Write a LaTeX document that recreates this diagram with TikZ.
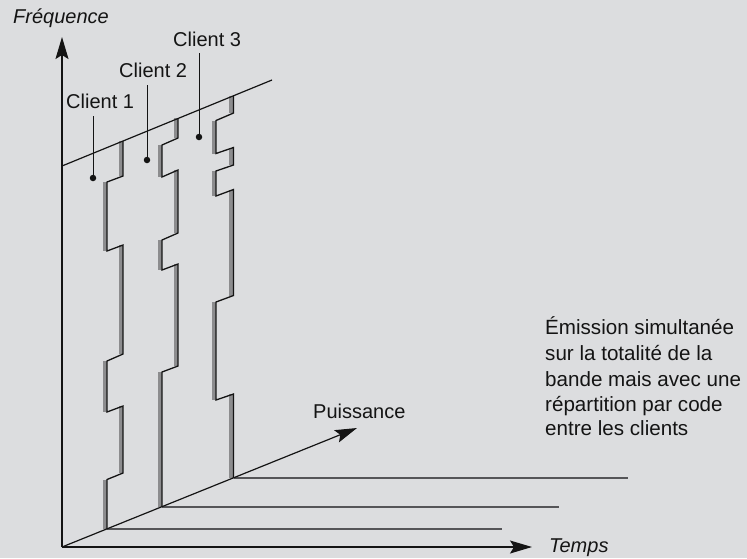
\documentclass[tikz,border=0pt]{standalone}
\usepackage{fontspec}
\setmainfont{Liberation Sans}
\usetikzlibrary{arrows.meta}
\definecolor{bgcol}{RGB}{220,221,223}
\definecolor{bandcol}{RGB}{140,140,142}
\definecolor{basecol}{RGB}{85,85,88}
\definecolor{inkcol}{RGB}{20,20,20}
\newcommand{\myband}[3]{\fill[bandcol] ({#1-4.5},#2) rectangle (#1,#3);}
\begin{document}
\begin{tikzpicture}[x=1pt,y=-1pt,
  axis/.style={draw=inkcol,line width=1.2pt,-{Stealth[length=22pt,width=13pt,inset=4pt]}},
  stripline/.style={draw=inkcol,line width=1.3pt,line join=miter},
  baseline/.style={draw=basecol,line width=1.6pt},
  lbl/.style={inner sep=0pt,anchor=base west,text=inkcol,font=\fontsize{20}{24}\selectfont},
  ilbl/.style={lbl,font=\fontsize{20}{24}\selectfont\itshape},
  desc/.style={lbl,font=\fontsize{20.6}{25}\selectfont},
  dotn/.style={circle,fill=inkcol,inner sep=0pt,minimum size=6.5pt},
  leader/.style={draw=inkcol,line width=1pt}]
\useasboundingbox (0,0) rectangle (747,558);
\fill[bgcol] (0,0) rectangle (747,558);

% axes coordinates
\coordinate (O) at (62,547);
\coordinate (F) at (62,37);
\coordinate (T) at (532,547);
\coordinate (P) at (357,428);
\coordinate (topA) at (62,166);
\coordinate (topB) at (272,80);

% base lines to the right
\coordinate (b1) at (107,528.8);
\coordinate (b2) at (162,506.7);
\coordinate (b3) at (233.5,478);
\coordinate (e1) at (502,528.8);
\coordinate (e2) at (559,506.7);
\coordinate (e3) at (628,478);
\draw[baseline] (b1) -- (e1);
\draw[baseline] (b2) -- (e2);
\draw[baseline] (b3) -- (e3);

% gray bands
\myband{123}{141}{176}
\myband{123}{245}{354}
\myband{123}{406}{473}
\myband{107}{182}{251}
\myband{107}{361}{412}
\myband{107}{479.5}{528.8}

\myband{178}{118}{138}
\myband{178}{170}{233}
\myband{178}{264}{366}
\myband{162}{145}{177}
\myband{162}{240}{270}
\myband{162}{372}{506.7}

\myband{233.5}{96}{113}
\myband{233.5}{147.5}{165}
\myband{233.5}{189.5}{295.5}
\myband{233.5}{394}{478}
\myband{216}{120.5}{153.5}
\myband{216}{171}{196}
\myband{216}{302}{400}

% strip outlines
\draw[stripline] (123,141) -- (123,176) -- (107,182) -- (107,251) -- (123,245) -- (123,354) -- (107,361) -- (107,412) -- (123,406) -- (123,473) -- (107,479.5) -- (b1);
\draw[stripline] (178,118) -- (178,138) -- (162,145) -- (162,177) -- (178,170) -- (178,233) -- (162,240) -- (162,270) -- (178,264) -- (178,366) -- (162,372) -- (b2);
\draw[stripline] (233.5,96) -- (233.5,113) -- (216,120.5) -- (216,153.5) -- (233.5,147.5) -- (233.5,165) -- (216,171) -- (216,196) -- (233.5,189.5) -- (233.5,295.5) -- (216,302) -- (216,400) -- (233.5,394) -- (b3);

% top line and axes
\draw[draw=inkcol,line width=1.2pt] (topA) -- (topB);
\draw[axis] (O) -- (F);
\draw[axis] (O) -- (T);
\draw[axis] (O) -- (P);

% axis labels
\node[ilbl] (freq) at (13,23.5) {Fréquence};
\node[ilbl] (temps) at (549,552.5) {Temps};
\node[lbl] (puis) at (313,418) {Puissance};

% client labels with leaders
\node[lbl] (c1) at (66,108) {Client 1};
\node[lbl] (c2) at (119,77.5) {Client 2};
\node[lbl] (c3) at (173,46) {Client 3};
\node[dotn] (d1) at (93,178) {};
\node[dotn] (d2) at (147,160) {};
\node[dotn] (d3) at (199,137) {};
\coordinate (l1) at (93,116);
\coordinate (l2) at (147,85);
\coordinate (l3) at (199,53);
\draw[leader] (l1) -- (d1);
\draw[leader] (l2) -- (d2);
\draw[leader] (l3) -- (d3);

% description
\node[desc] (t1) at (545,334.5) {Émission simultanée};
\node[desc] (t2) at (545,360.5) {sur la totalité de la};
\node[desc] (t3) at (545,386) {bande mais avec une};
\node[desc] (t4) at (545,411) {répartition par code};
\node[desc] (t5) at (545,435.5) {entre les clients};
\end{tikzpicture}
\end{document}
